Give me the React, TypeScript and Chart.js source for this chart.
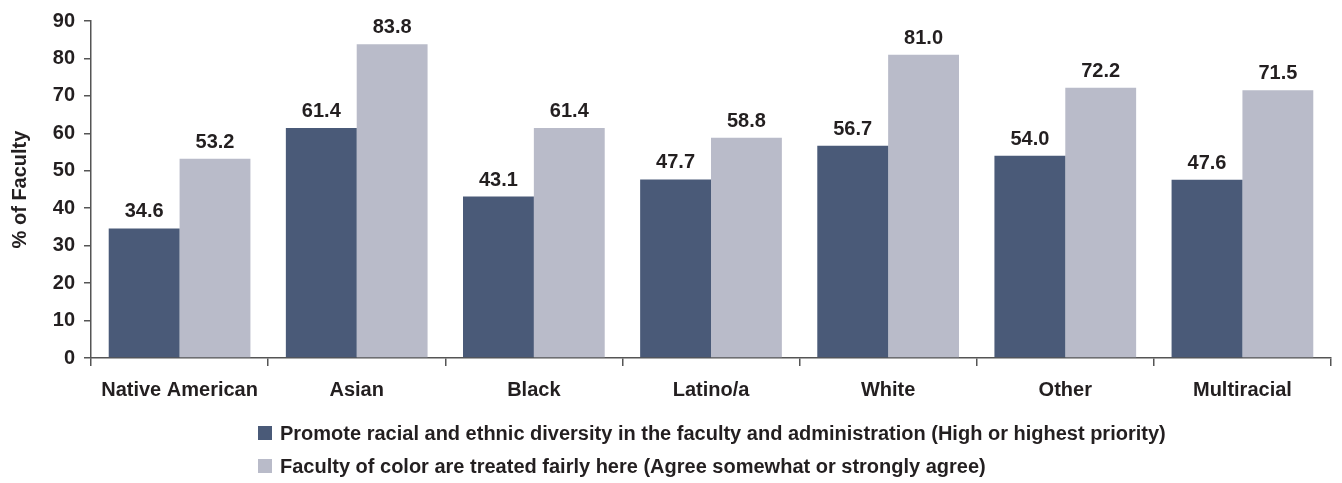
import React, { useEffect, useRef } from "react";
import { Chart, registerables } from "chart.js";

Chart.register(...registerables);

const categories = ["Native American", "Asian", "Black", "Latino/a", "White", "Other", "Multiracial"];
const promoteDiversity = [34.6, 61.4, 43.1, 47.7, 56.7, 54.0, 47.6];
const treatedFairly = [53.2, 83.8, 61.4, 58.8, 81.0, 72.2, 71.5];
const seriesLabels = [
  "Promote racial and ethnic diversity in the faculty and administration (High or highest priority)",
  "Faculty of color are treated fairly here (Agree somewhat or strongly agree)",
];
const seriesColors = ["#4a5a78", "#b9bbc9"];
const yTicksMax = 90;
const yTicksStep = 10;

const FONT = "'Liberation Sans', Arial, Helvetica, sans-serif";
const TEXT = "#231f20";

const dataLabelPlugin = {
  id: "dataLabels",
  afterDatasetsDraw(chart: any) {
    const ctx = chart.ctx;
    ctx.save();
    ctx.font = `bold 20px ${FONT}`;
    ctx.fillStyle = TEXT;
    ctx.textAlign = "center";
    ctx.textBaseline = "alphabetic";
    chart.data.datasets.forEach((ds: any, i: number) => {
      const meta = chart.getDatasetMeta(i);
      meta.data.forEach((bar: any, j: number) => {
        ctx.fillText(Number(ds.data[j]).toFixed(1), bar.x, bar.y - 11);
      });
    });
    ctx.restore();
  },
};

export default function App() {
  const ref = useRef<HTMLCanvasElement | null>(null);
  useEffect(() => {
    if (!ref.current) return;
    const chart = new Chart(ref.current, {
      type: "bar",
      data: {
        labels: categories,
        datasets: [
          { label: seriesLabels[0], data: promoteDiversity, backgroundColor: seriesColors[0] },
          { label: seriesLabels[1], data: treatedFairly, backgroundColor: seriesColors[1] },
        ],
      },
      options: {
        animation: false,
        responsive: false,
        maintainAspectRatio: false,
        layout: { padding: { left: 0, right: 11, top: 18, bottom: 65 } },
        datasets: { bar: { categoryPercentage: 0.8, barPercentage: 1.0 } },
        plugins: { legend: { display: false }, tooltip: { enabled: false } },
        scales: {
          x: {
            grid: { drawOnChartArea: false, offset: true, tickLength: 8, color: "#555", lineWidth: 1.5 },
            border: { color: "#555", width: 1.5 },
            ticks: { font: { family: FONT, size: 20, weight: "bold" }, color: TEXT, padding: 12, maxRotation: 0 },
            afterFit: (s: any) => { s.height = 60; },
          },
          y: {
            min: 0,
            max: yTicksMax,
            grid: { drawOnChartArea: false, tickLength: 7, color: "#555", lineWidth: 1.5 },
            border: { color: "#555", width: 1.5 },
            ticks: { stepSize: yTicksStep, font: { family: FONT, size: 20, weight: "bold" }, color: TEXT, padding: 9 },
            title: {
              display: true,
              text: "% of Faculty",
              font: { family: FONT, size: 20, weight: "bold" },
              color: TEXT,
              padding: { top: 8, bottom: 0 },
            },
            afterFit: (s: any) => { s.width = 91; },
          },
        },
      },
      plugins: [dataLabelPlugin],
    } as any);
    return () => chart.destroy();
  }, []);

  return (
    <div style={{ position: "absolute", left: 0, top: 0, width: 1342, height: 483, background: "#fff" }}>
      <canvas ref={ref} width={1342} height={483} style={{ display: "block" }} />
      {seriesLabels.map((lab, i) => (
        <div
          key={i}
          style={{
            position: "absolute",
            left: 258,
            top: 421 + i * 33,
            height: 24,
            display: "flex",
            alignItems: "center",
            fontFamily: FONT,
            fontWeight: "bold",
            fontSize: 20,
            color: TEXT,
            whiteSpace: "nowrap",
          }}
        >
          <span style={{ display: "inline-block", width: 14, height: 14, background: seriesColors[i], marginRight: 8 }} />
          {lab}
        </div>
      ))}
    </div>
  );
}
